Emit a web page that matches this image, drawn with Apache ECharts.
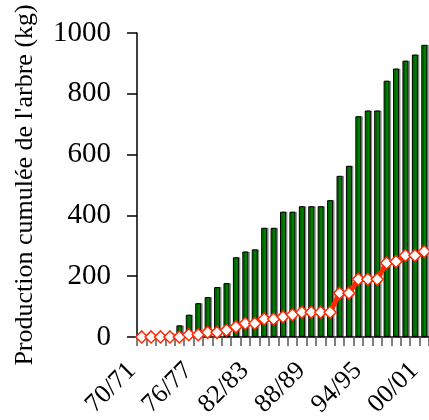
<!DOCTYPE html>
<html><head><meta charset="utf-8">
<script src="https://cdn.jsdelivr.net/npm/echarts@6/dist/echarts.min.js"></script>
<style>html,body{margin:0;padding:0;background:#fff}#c{width:429px;height:420px}</style>
</head><body><div id="c"></div>
<script>
const categories = ["70/71","71/72","72/73","73/74","74/75","75/76","76/77","77/78","78/79","79/80","80/81","81/82","82/83","83/84","84/85","85/86","86/87","87/88","88/89","89/90","90/91","91/92","92/93","93/94","94/95","95/96","96/97","97/98","98/99","99/00","00/01"];
const cumulTree = [0,0,10,12,38,73,111,131,164,177,262,281,288,359,359,412,412,430,430,430,450,530,563,726,745,745,843,883,909,929,961];
const cumulLine = [0,0,0,0,0,7,7,15,15,22,33,44,44,59,59,66,73,81,81,81,81,144,144,190,190,190,243,248,268,268,281];
const yTicks = [0,200,400,600,800,1000];
const yTitle = "Production cumulée de l'arbre (kg)";

const chart = echarts.init(document.getElementById('c'), null, {renderer:'canvas'});
const font = 'Liberation Serif';
chart.setOption({
  animation:false,
  backgroundColor:'#fff',
  grid:{left:137, top:33, bottom:83, right:-4, containLabel:false},
  xAxis:{
    type:'category', data:categories, boundaryGap:true,
    axisLine:{lineStyle:{color:'#000', width:1.5}},
    axisTick:{show:true, length:9, lineStyle:{color:'#555', width:1.5}, alignWithLabel:false, interval:0},
    axisLabel:{interval:5, rotate:45, margin:20, padding:[0,14,0,0], fontFamily:font, fontSize:26, color:'#000'}
  },
  yAxis:{
    type:'value', min:yTicks[0], max:yTicks[yTicks.length-1], interval:200,
    name:yTitle, nameLocation:'middle', nameGap:99,
    nameTextStyle:{fontFamily:font, fontSize:26, color:'#000'},
    axisLine:{show:true, lineStyle:{color:'#000', width:1.5}},
    axisTick:{show:true, length:10, lineStyle:{color:'#000', width:1.5}},
    splitLine:{show:false},
    axisLabel:{margin:26, fontFamily:font, fontSize:29, color:'#000', formatter:function(v){return String(v);}}
  },
  series:[
    {type:'bar', data:cumulTree, barWidth:6,
     itemStyle:{color:'#008000', borderColor:'#000', borderWidth:1,
       shadowColor:'rgba(0,0,0,0.35)', shadowOffsetX:1.5, shadowOffsetY:0, shadowBlur:0}},
    {type:'line', data:cumulLine, symbol:'diamond', symbolSize:12, z:5, showSymbol:true, showAllSymbol:true,
     lineStyle:{color:'#ff2a00', width:5},
     itemStyle:{color:'#fff', borderColor:'#ff2a00', borderWidth:1.5}}
  ]
});
</script></body></html>
